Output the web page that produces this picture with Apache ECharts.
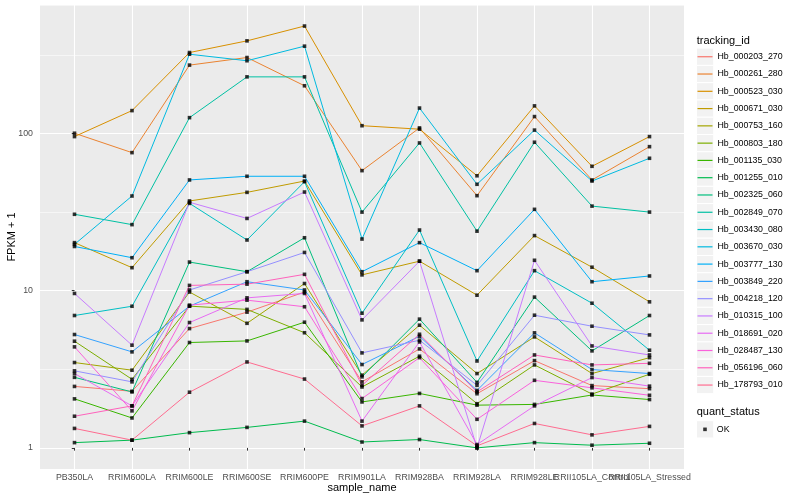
<!DOCTYPE html>
<html>
<head>
<meta charset="utf-8">
<script src="https://cdn.jsdelivr.net/npm/echarts@6/dist/echarts.min.js"></script>
<style>html,body{margin:0;padding:0;background:#fff;}#chart{width:800px;height:500px;}</style>
</head>
<body>
<div id="chart"></div>
<script>
const categories = ['PB350LA','RRIM600LA','RRIM600LE','RRIM600SE','RRIM600PE','RRIM901LA','RRIM928BA','RRIM928LA','RRIM928LE','RRII105LA_Control','RRII105LA_Stressed'];
const trackingIds = ['Hb_000203_270','Hb_000261_280','Hb_000523_030','Hb_000671_030','Hb_000753_160','Hb_000803_180','Hb_001135_030','Hb_001255_010','Hb_002325_060','Hb_002849_070','Hb_003430_080','Hb_003670_030','Hb_003777_130','Hb_003849_220','Hb_004218_120','Hb_010315_100','Hb_018691_020','Hb_028487_130','Hb_056196_060','Hb_178793_010'];
const seriesColors = ['#F8766D','#EA8331','#D89000','#C09B00','#A3A500','#7CAE00','#39B600','#00BB4E','#00BF7D','#00C1A3','#00BFC4','#00BAE0','#00B0F6','#35A2FF','#9590FF','#C77CFF','#E76BF3','#FA62DB','#FF62BC','#FF6C90'];

// FPKM + 1 values per tracking_id, in category order
const hb_000203_270 = [2.46, 2.29, 5.74, 7.3, 9.8, 2.63, 4.26, 2.21, 3.59, 2.49, 2.38];
const hb_000261_280 = [100.3, 75.5, 272, 304, 201, 58, 108.4, 40.2, 128, 50.6, 82.4];
const hb_000523_030 = [95.5, 139.7, 327, 388, 482, 112, 106.4, 53.8, 149.7, 61.8, 95.5];
const hb_000671_030 = [20.2, 14.0, 37.2, 42.2, 49.8, 12.6, 15.4, 9.36, 22.4, 14.1, 8.49];
const hb_000753_160 = [3.49, 3.12, 9.8, 6.2, 11.1, 2.90, 6.03, 2.97, 5.08, 2.97, 3.75];
const hb_000803_180 = [4.77, 2.73, 7.97, 7.6, 5.4, 2.44, 3.83, 1.91, 3.37, 2.20, 2.94];
const hb_001135_030 = [2.05, 1.55, 4.68, 4.79, 6.3, 1.96, 2.22, 1.87, 1.89, 2.17, 2.03];
const hb_001255_010 = [1.08, 1.12, 1.25, 1.35, 1.48, 1.09, 1.13, 1.0, 1.08, 1.04, 1.07];
const hb_002325_060 = [2.81, 2.27, 15.2, 13.2, 21.7, 2.83, 6.59, 2.61, 9.1, 4.14, 6.95];
const hb_002849_070 = [30.6, 26.3, 126, 229, 229, 31.6, 87, 23.9, 87.9, 34.5, 31.6];
const hb_003430_080 = [6.95, 7.96, 35.9, 21.0, 49.3, 7.19, 24.3, 3.57, 13.4, 8.32, 4.18];
const hb_003670_030 = [19.7, 40.0, 319, 290, 359, 21.3, 145, 47.5, 105, 49.8, 69.5];
const hb_003777_130 = [19.1, 16.2, 50.6, 53.4, 53.4, 13.2, 20.2, 13.4, 32.9, 11.4, 12.4];
const hb_003849_220 = [5.26, 4.08, 7.97, 11.4, 10.1, 3.39, 5.13, 2.32, 5.39, 3.15, 2.97];
const hb_004218_120 = [3.09, 2.63, 10.1, 13.2, 17.5, 4.02, 4.84, 2.50, 6.98, 5.94, 5.23];
const hb_010315_100 = [9.6, 4.5, 36.5, 28.8, 42.4, 6.52, 15.4, 1.0, 15.6, 4.45, 3.9];
const hb_018691_020 = [2.97, 1.85, 6.27, 9.0, 9.6, 1.48, 4.72, 1.05, 1.85, 2.80, 2.47];
const hb_028487_130 = [4.39, 1.72, 8.09, 8.7, 7.9, 2.06, 3.75, 1.52, 2.69, 2.41, 2.16];
const hb_056196_060 = [1.59, 1.85, 10.8, 11.0, 12.7, 2.5, 5.28, 2.27, 3.90, 3.37, 3.45];
const hb_178793_010 = [1.33, 1.12, 2.26, 3.52, 2.74, 1.38, 1.85, 1.03, 1.43, 1.21, 1.37];

const seriesValues = [hb_000203_270, hb_000261_280, hb_000523_030, hb_000671_030, hb_000753_160, hb_000803_180, hb_001135_030, hb_001255_010, hb_002325_060, hb_002849_070, hb_003430_080, hb_003670_030, hb_003777_130, hb_003849_220, hb_004218_120, hb_010315_100, hb_018691_020, hb_028487_130, hb_056196_060, hb_178793_010];

const yTicks = [1, 10, 100];
const statusLevels = ['OK'];

const yMin = 0.734, yMax = 656;
const FONT = '"Liberation Sans", Arial, Helvetica, sans-serif';

const lineSeries = trackingIds.map((id, k) => ({
  type: 'line', name: id, xAxisIndex: 0, yAxisIndex: 0,
  data: seriesValues[k].map((v, i) => [i, v]),
  showSymbol: false, symbol: 'none',
  lineStyle: { width: 1, color: seriesColors[k] },
  itemStyle: { color: seriesColors[k] },
  emphasis: { disabled: true },
  z: 2
}));
const pointData = [];
seriesValues.forEach(arr => arr.forEach((v, i) => pointData.push([i, v])));
const pointSeries = {
  type: 'scatter', name: statusLevels[0], data: pointData, xAxisIndex: 0, yAxisIndex: 0,
  symbol: 'rect', symbolSize: 3.6, itemStyle: { color: '#000' },
  emphasis: { disabled: true }, z: 3
};

const keyTop = 48.1, keyStep = 17.28;
const graphics = [];
trackingIds.forEach((id, i) => graphics.push({
  type: 'rect', z: 0,
  shape: { x: 696.5, y: keyTop + keyStep * i, width: 17.28, height: 17.28 },
  style: { fill: '#F2F2F2', stroke: '#fff', lineWidth: 1 }
}));
graphics.push({ type: 'rect', z: 0, shape: { x: 696.5, y: 420.7, width: 17.28, height: 17.28 }, style: { fill: '#F2F2F2', stroke: '#fff', lineWidth: 1 } });
graphics.push({ type: 'text', z: 1, style: { text: 'tracking_id', x: 696.7, y: 40.7, verticalAlign: 'middle', font: '11px ' + FONT, fill: '#000' } });
graphics.push({ type: 'text', z: 1, style: { text: 'quant_status', x: 696.7, y: 412.3, verticalAlign: 'middle', font: '11px ' + FONT, fill: '#000' } });

const catIdx = categories.map((c, i) => i);
const labelFmt = v => { const r = Math.round(v); return Math.abs(v - r) < 1e-6 && categories[r] ? categories[r] : ''; };
const xLabelBase = { formatter: labelFmt, color: '#4D4D4D', fontSize: 8.8, margin: 4.5, hideOverlap: false, showMinLabel: true, showMaxLabel: true, interval: 0 };

const chart = echarts.init(document.getElementById('chart'), null, { renderer: 'canvas' });
chart.setOption({
  animation: false,
  backgroundColor: '#fff',
  textStyle: { fontFamily: FONT },
  grid: { left: 40, right: 116, top: 5, bottom: 31, show: true, backgroundColor: '#EBEBEB', borderWidth: 0, containLabel: false, outerBoundsMode: 'none' },
  xAxis: [{
    type: 'value', min: -0.6, max: 10.6, splitNumber: 11, position: 'bottom',
    axisLine: { show: false },
    axisTick: { show: true, length: 2.75, lineStyle: { color: '#333', width: 1 }, customValues: catIdx },
    axisLabel: Object.assign({ customValues: catIdx.filter(i => i % 2 === 0) }, xLabelBase),
    splitLine: { show: true, lineStyle: { color: '#fff', width: 1.1 } },
    name: 'sample_name', nameLocation: 'middle', nameGap: 13, nameMoveOverlap: false,
    nameTextStyle: { fontSize: 11, color: '#000' }
  }, {
    type: 'value', min: -0.6, max: 10.6, splitNumber: 11, position: 'bottom', offset: 0,
    axisLine: { show: false }, axisTick: { show: false }, splitLine: { show: false },
    axisLabel: Object.assign({ customValues: catIdx.filter(i => i % 2 === 1) }, xLabelBase)
  }],
  yAxis: [{
    type: 'log', logBase: 10, min: yMin, max: yMax,
    axisLine: { show: false },
    axisTick: { show: true, length: 2.75, lineStyle: { color: '#333', width: 1 }, customValues: yTicks },
    axisLabel: { customValues: yTicks, formatter: v => { const l = Math.log10(v); return Math.abs(l - Math.round(l)) < 1e-6 ? String(Math.round(v)) : ''; }, color: '#4D4D4D', fontSize: 8.8, margin: 7, showMinLabel: true, showMaxLabel: true },
    splitLine: { show: true, lineStyle: { color: '#fff', width: 1.1 } },
    minorTick: { show: false },
    name: 'FPKM + 1', nameLocation: 'middle', nameGap: 22.5, nameRotate: 90, nameMoveOverlap: false,
    nameTextStyle: { fontSize: 11, color: '#000' }
  }, {
    type: 'value', min: Math.log10(yMin), max: Math.log10(yMax), splitNumber: 6,
    position: 'left',
    axisLine: { show: false }, axisTick: { show: false }, axisLabel: { show: false },
    splitLine: { show: true, lineStyle: { color: '#fff', width: 0.55 } }
  }],
  legend: [{
    data: trackingIds, orient: 'vertical', left: 697.5, top: keyTop, padding: 0,
    itemWidth: 15, itemHeight: 1.2, itemGap: 0, icon: 'rect', selectedMode: false,
    textStyle: { fontSize: 8.8, color: '#000', lineHeight: 17.28 }
  }, {
    data: statusLevels, orient: 'vertical', left: 703.2, top: 420.7, padding: 0,
    itemWidth: 3.6, itemHeight: 3.6, itemGap: 0, icon: 'rect', selectedMode: false,
    textStyle: { fontSize: 8.8, color: '#000', lineHeight: 17.28, padding: [0, 0, 0, 5] }
  }],
  graphic: graphics,
  series: lineSeries.concat([pointSeries])
});
</script>
</body>
</html>
